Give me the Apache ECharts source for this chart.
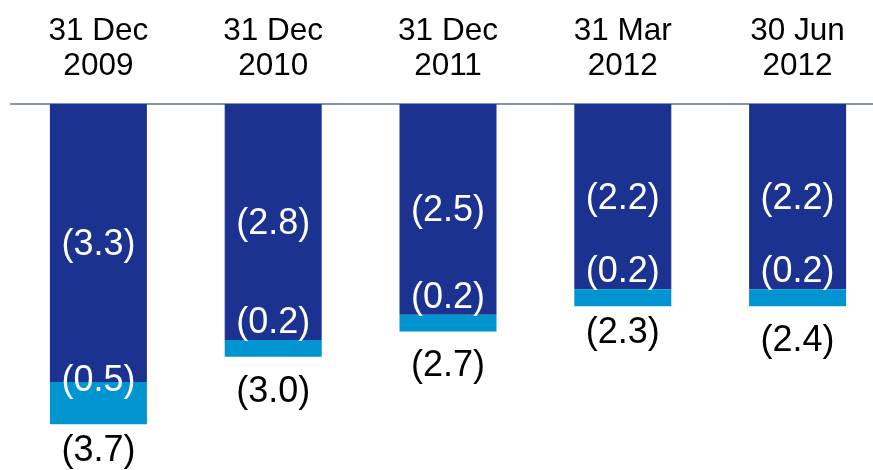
<!DOCTYPE html>
<html>
<head>
<meta charset="utf-8">
<script src="https://cdn.jsdelivr.net/npm/echarts@6/dist/echarts.min.js"></script>
<style>
  html, body { margin: 0; padding: 0; background: #ffffff; }
  #chart { width: 873px; height: 470px; }
</style>
</head>
<body>
<div id="chart"></div>
<script>
// Reporting dates shown along the top axis
const categories = ['31 Dec\n2009', '31 Dec\n2010', '31 Dec\n2011', '31 Mar\n2012', '30 Jun\n2012'];
// Main component (dark segment), negative values
const mainValues = [-3.3, -2.8, -2.5, -2.2, -2.2];
// Secondary component (light segment), negative values
const minorValues = [-0.5, -0.2, -0.2, -0.2, -0.2];
// Reported totals printed under each bar
const totalValues = [-3.7, -3.0, -2.7, -2.3, -2.4];

const DARK = '#1b3291';
const LIGHT = '#0094d0';
const FONT = '"Liberation Sans", Arial, sans-serif';
const VALUE_FONT_SIZE = 36;

const fmt = v => '(' + Math.abs(v).toFixed(1) + ')';

const chart = echarts.init(document.getElementById('chart'), null, { renderer: 'canvas' });

chart.setOption({
  animation: false,
  backgroundColor: '#ffffff',
  grid: {
    left: 11, width: 874, top: 104, height: 337,
    containLabel: false,
    outerBoundsMode: 'none'
  },
  xAxis: {
    type: 'category',
    position: 'top',
    data: categories,
    axisLine: { show: true, lineStyle: { color: '#8095a8', width: 2 } },
    axisTick: { show: false },
    axisLabel: {
      color: '#000000',
      fontFamily: FONT,
      fontSize: 31.5,
      lineHeight: 35,
      margin: 20,
      interval: 0
    },
    splitLine: { show: false }
  },
  yAxis: {
    type: 'value',
    min: -4,
    max: 0,
    show: false,
    splitLine: { show: false }
  },
  series: [
    {
      // Invisible total bar, carries the total label under each stack
      type: 'bar',
      data: totalValues,
      barWidth: 97,
      barGap: '-100%',
      z: 1,
      silent: true,
      itemStyle: { color: 'rgba(255,255,255,0)' },
      label: {
        show: true,
        position: 'bottom',
        distance: 17,
        color: '#000000',
        fontFamily: FONT,
        fontSize: VALUE_FONT_SIZE,
        formatter: p => fmt(p.value)
      }
    },
    {
      type: 'bar',
      stack: 'total',
      data: mainValues,
      barWidth: 97,
      barGap: '-100%',
      z: 2,
      itemStyle: { color: DARK },
      label: {
        show: true,
        position: 'inside',
        offset: [0, 2],
        color: '#ffffff',
        fontFamily: FONT,
        fontSize: VALUE_FONT_SIZE,
        formatter: p => fmt(p.value)
      }
    },
    {
      type: 'bar',
      stack: 'total',
      data: minorValues.map((v, i) => i === 0
        ? { value: v, label: { distance: -17 } }
        : v),
      barWidth: 97,
      barGap: '-100%',
      z: 2,
      itemStyle: { color: LIGHT },
      label: {
        show: true,
        position: 'top',
        distance: -1,
        color: '#ffffff',
        fontFamily: FONT,
        fontSize: VALUE_FONT_SIZE,
        formatter: p => fmt(p.value)
      }
    }
  ]
});
</script>
</body>
</html>
